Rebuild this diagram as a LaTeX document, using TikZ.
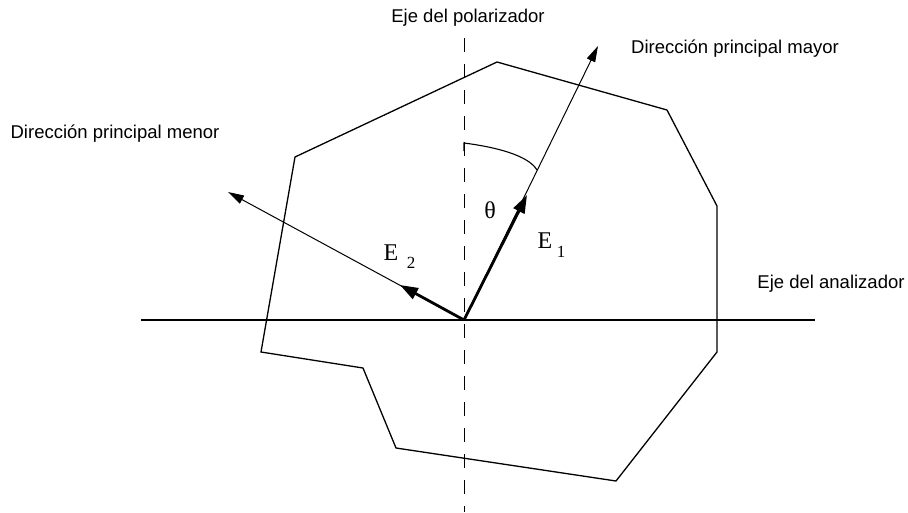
\documentclass[tikz,border=0pt]{standalone}
\usepackage{fontspec}
\setmainfont{Liberation Sans}
\newfontfamily\serifE{Liberation Serif}
\usetikzlibrary{arrows.meta}
\tikzset{
  lbl/.style={font=\fontsize{18.5}{20}\selectfont, inner sep=0pt},
  ser/.style={font=\serifE\fontsize{24}{26}\selectfont, inner sep=0pt},
  sub/.style={font=\serifE\fontsize{17}{19}\selectfont, inner sep=0pt},
  thin arrow/.style={line width=1pt, -{Triangle[length=16pt,width=9pt]}},
  thick arrow/.style={line width=2.8pt, -{Triangle[length=18pt,width=12pt]}},
  outline/.style={line width=1.3pt, line join=miter},
  axisline/.style={line width=2pt},
  polline/.style={line width=1pt, dash pattern=on 14pt off 12pt}
}
\begin{document}
\begin{tikzpicture}[x=1pt,y=-1pt]
\useasboundingbox (0,0) rectangle (908,512);
% key points
\coordinate (O) at (464,320);
\coordinate (ax1) at (141,320);
\coordinate (ax2) at (815,320);
\coordinate (pt) at (464,38);
\coordinate (pb) at (464,512);
\coordinate (maj) at (598,46);
\coordinate (min) at (228,192);
\coordinate (e1) at (527,195);
\coordinate (e2) at (400,285);
\coordinate (arcA) at (464,143);
\coordinate (arcB) at (537,170);
% polygon
\draw[outline] (497,62) -- (667,110) -- (717,206) -- (717,352) -- (616,481)
  -- (396,448) -- (363,368) -- (261,352) -- (295,157) -- cycle;
% axes
\draw[axisline] (ax1) -- (ax2);
\draw[polline] (pt) -- (pb);
% angle mark
\draw[line width=1.1pt] (464,151) -- (arcA) .. controls (495,147) and (528,155) .. (arcB);
% principal directions
\draw[thin arrow] (O) -- (maj);
\draw[thin arrow] (O) -- (min);
\draw[thick arrow] (O) -- (e1);
\draw[thick arrow] (O) -- (e2);
% labels
\node[lbl] (tpol) at (468,18) {Eje del polarizador};
\node[lbl] (tmay) at (735,49) {Dirección principal mayor};
\node[lbl] (tmen) at (115,134) {Dirección principal menor};
\node[lbl] (tana) at (831,284) {Eje del analizador};
\node[ser] (th) at (490,210) {θ};
\node[ser] (E1) at (545,241) {E};
\node[sub] (s1) at (561,252) {1};
\node[ser] (E2) at (391,253) {E};
\node[sub] (s2) at (411,263) {2};
\end{tikzpicture}
\end{document}
